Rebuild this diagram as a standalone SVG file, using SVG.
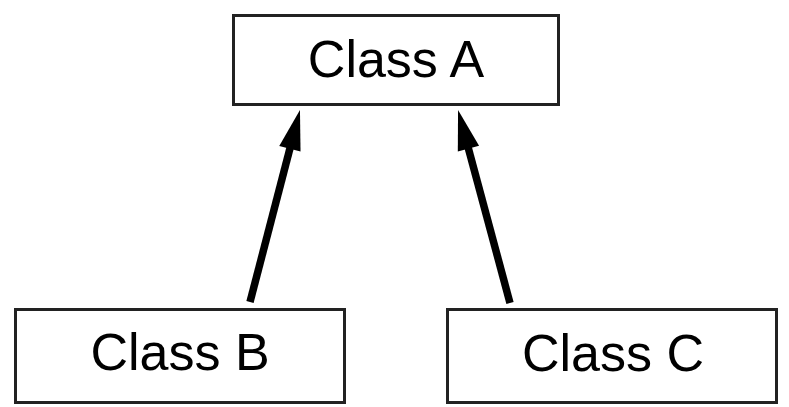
<svg xmlns="http://www.w3.org/2000/svg" width="789" height="407" viewBox="0 0 789 407">
  <style>
    .box { fill: #ffffff; stroke: #222222; stroke-width: 3; }
    .label { font-family: "Liberation Sans", Arial, sans-serif; font-size: 52px; fill: #000000; text-anchor: middle; }
    .edge { stroke: #000000; stroke-width: 7.5; fill: none; marker-end: url(#head); }
  </style>
  <defs>
    <marker id="head" markerUnits="userSpaceOnUse" markerWidth="40" markerHeight="22" refX="4" refY="11" orient="auto" overflow="visible">
      <path d="M0,0 L40,11 L0,22 Z" fill="#000000"/>
    </marker>
  </defs>
  <rect width="789" height="407" fill="#ffffff"/>

  <g id="connectors">
    <line class="edge" x1="250" y1="302" x2="290.9" y2="144.8"/>
    <line class="edge" x1="510" y1="303" x2="467.4" y2="144.7"/>
  </g>

  <g id="class-a">
    <rect class="box" x="233.5" y="15.5" width="325" height="89"/>
    <text class="label" x="396" y="77">Class A</text>
  </g>

  <g id="class-b">
    <rect class="box" x="15.5" y="309.5" width="329" height="93"/>
    <text class="label" x="180" y="370">Class B</text>
  </g>

  <g id="class-c">
    <rect class="box" x="447.5" y="309.5" width="329" height="93"/>
    <text class="label" x="613" y="371">Class C</text>
  </g>
</svg>
